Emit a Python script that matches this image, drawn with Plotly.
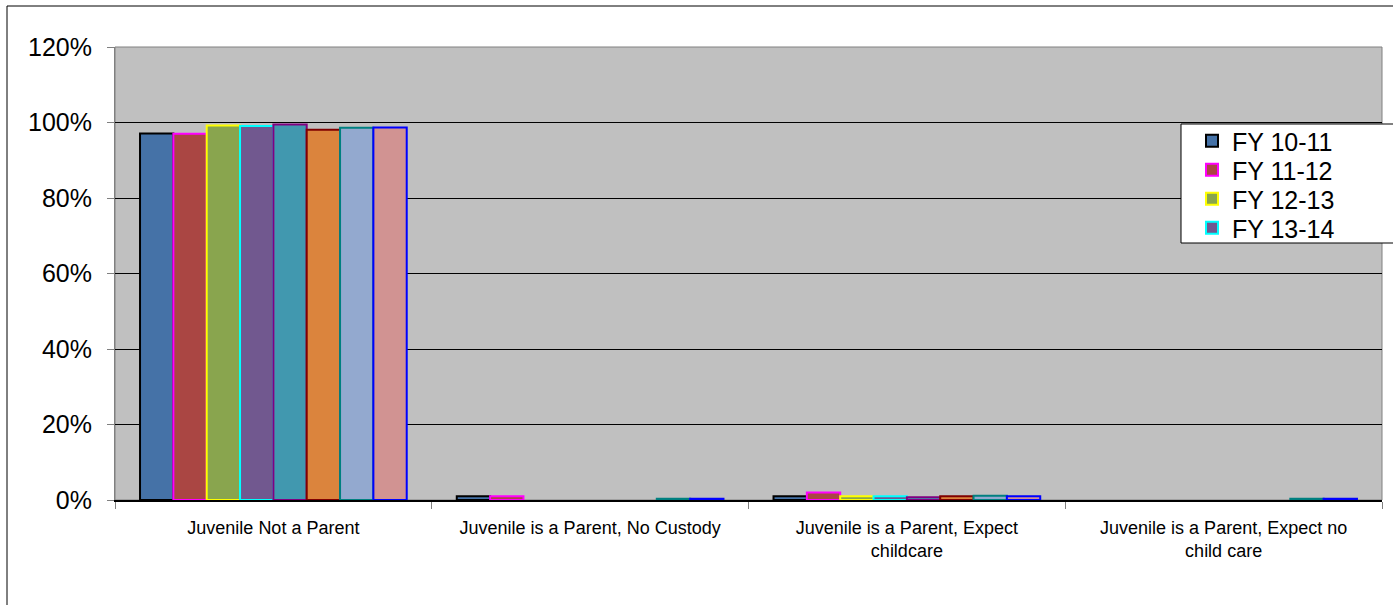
import plotly.graph_objects as go

categories = [
    "Juvenile Not a Parent",
    "Juvenile is a Parent, No Custody",
    "Juvenile is a Parent, Expect<br>childcare",
    "Juvenile is a Parent, Expect no<br>child care",
]

series_names = ["FY 10-11", "FY 11-12", "FY 12-13", "FY 13-14",
                "FY 14-15", "FY 15-16", "FY 16-17", "FY 17-18"]

# share of juveniles in each category, per fiscal year
values = [
    [97.1, 1.0, 1.0, 0.0],
    [97.0, 1.0, 2.0, 0.0],
    [99.2, 0.0, 1.0, 0.0],
    [99.1, 0.0, 1.0, 0.0],
    [99.5, 0.0, 0.7, 0.0],
    [98.1, 0.0, 1.0, 0.0],
    [98.6, 0.3, 1.1, 0.3],
    [98.7, 0.3, 1.0, 0.3],
]

fill_colors = ["#4572A7", "#AA4643", "#89A54E", "#71588F",
               "#4198AF", "#DB843D", "#93A9CF", "#D19392"]
line_colors = ["#000000", "#FF00FF", "#FFFF00", "#00FFFF",
               "#800080", "#800000", "#008080", "#0000FF"]

y_ticks = [0, 20, 40, 60, 80, 100, 120]
y_tick_labels = [f"{t}%" for t in y_ticks]

W, H = 1393, 605
ml, mr, mt, mb = 115, 11, 47, 105
pw = W - ml - mr
ph = H - mt - mb


def px_x(x):
    return (x - ml) / pw


def px_y(y):
    return (H - mb - y) / ph


# one small legend per visible entry, so the rows sit close together
legend_ids = ["legend", "legend2", "legend3", "legend4"]
legend_rows_px = [141, 170, 199, 228]

fig = go.Figure()
for i, name in enumerate(series_names):
    # no outline on empty bars
    outline_widths = [2 if v > 0 else 0 for v in values[i]]
    fig.add_trace(go.Bar(
        name=name,
        x=categories,
        y=values[i],
        marker=dict(color=fill_colors[i],
                    line=dict(color=line_colors[i], width=outline_widths)),
        showlegend=i < 4,
        legend=legend_ids[i] if i < 4 else "legend",
    ))

legend_style = dict(
    xanchor="left", yanchor="middle",
    bgcolor="rgba(0,0,0,0)", borderwidth=0,
    font=dict(size=25, family="Liberation Sans, Arial, sans-serif", color="black"),
    itemwidth=30,
)
legend_layout = {
    lid: dict(x=px_x(1192), y=px_y(row), **legend_style)
    for lid, row in zip(legend_ids, legend_rows_px)
}

fig.update_layout(
    width=W, height=H,
    margin=dict(l=ml, r=mr, t=mt, b=mb, pad=0),
    paper_bgcolor="white",
    plot_bgcolor="#C0C0C0",
    barmode="group",
    bargap=0.158,
    bargroupgap=0,
    font=dict(family="Liberation Sans, Arial, sans-serif", color="black"),
    showlegend=True,
    **legend_layout,
)

fig.update_yaxes(
    range=[0, 120],
    tickvals=y_ticks, ticktext=y_tick_labels,
    tickfont=dict(size=25),
    ticklabelstandoff=10,
    showgrid=True, gridcolor="#000000", gridwidth=1,
    ticks="outside", ticklen=7, tickcolor="#808080",
    showline=True, linecolor="#808080", linewidth=1,
    zeroline=False,
    fixedrange=True,
)
fig.update_xaxes(
    tickfont=dict(size=18),
    ticklabelstandoff=10,
    tickson="boundaries",
    ticks="outside", ticklen=7, tickcolor="#808080",
    showline=True, linecolor="#000000", linewidth=2,
    fixedrange=True,
)

# plot-area frame
fig.add_shape(type="rect", xref="paper", yref="paper", x0=0, x1=1, y0=0, y1=1,
              line=dict(color="#808080", width=1), layer="below")
# legend box, running past the right edge of the chart
fig.add_shape(type="rect", xref="paper", yref="paper",
              x0=px_x(1181), x1=px_x(W + 20), y0=px_y(243), y1=px_y(124),
              fillcolor="white", line=dict(color="#000000", width=1), layer="above")
# outer chart border
fig.add_shape(type="rect", xref="paper", yref="paper",
              x0=px_x(7), x1=px_x(W + 20), y0=px_y(H + 20), y1=px_y(6),
              line=dict(color="#000000", width=1), layer="above")

fig.write_html("out.html")
